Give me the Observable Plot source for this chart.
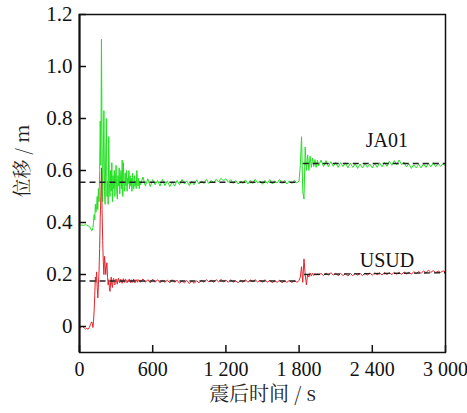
<!DOCTYPE html>
<html>
<head>
<meta charset="utf-8">
<script src="https://cdn.jsdelivr.net/npm/d3@7"></script>
<script src="https://cdn.jsdelivr.net/npm/@observablehq/plot@0.6"></script>
<style>
  html, body { margin: 0; padding: 0; background: #fff; }
</style>
</head>
<body>
<div id="chart"></div>
<script>
// sample times (s)
const times = [
  0,10,20,30,40,50,60,70,80,90,100,
  105,110,115,120,125,130,135,140,145,150,
  155,160,165,170,175,180,185,190,195,200,
  205,210,215,220,225,230,235,240,245,250,
  255,260,265,270,275,280,285,290,295,300,
  305,310,315,320,325,330,335,340,345,350,
  355,360,365,370,375,380,385,390,395,400,
  405,410,415,420,425,430,435,440,445,450,
  455,460,465,470,475,480,485,490,495,500,
  520,540,560,580,600,620,640,660,680,700,
  720,740,760,780,800,820,840,860,880,900,
  920,940,960,980,1000,1020,1040,1060,1080,1100,
  1120,1140,1160,1180,1200,1220,1240,1260,1280,1300,
  1320,1340,1360,1380,1400,1420,1440,1460,1480,1500,
  1520,1540,1560,1580,1600,1620,1640,1660,1680,1700,
  1720,1740,1760,1780,
  1790,1800,1810,1820,1830,1840,1850,1860,1870,1880,1890,1900,1910,1920,1930,1940,1950,1960,
  1980,2000,2020,2040,2060,2080,2100,2120,2140,2160,
  2180,2200,2220,2240,2260,2280,2300,2320,2340,2360,
  2380,2400,2420,2440,2460,2480,2500,2520,2540,2560,
  2580,2600,2620,2640,2660,2680,2700,2720,2740,2760,
  2780,2800,2820,2840,2860,2880,2900,2920,2940,2960,
  2980,3000
];

// JA01 displacement (m)
const ja01 = [
  0.392,0.389,0.391,0.388,0.39,0.393,0.389,0.387,0.385,0.378,0.368,
  0.37,0.38,0.40,0.43,0.41,0.47,0.44,0.46,0.50,0.45,
  0.53,0.48,0.60,0.79,0.62,1.105,0.7,0.48,0.65,0.83,
  0.52,0.47,0.66,0.80,0.5,0.56,0.47,0.73,0.55,0.50,
  0.6,0.52,0.63,0.48,0.58,0.53,0.6,0.5,0.57,0.62,
  0.52,0.49,0.58,0.54,0.61,0.51,0.56,0.6,0.53,0.64,
  0.5,0.63,0.55,0.52,0.59,0.54,0.6,0.52,0.57,0.55,
  0.6,0.53,0.58,0.54,0.57,0.52,0.59,0.55,0.53,0.58,
  0.54,0.56,0.53,0.6,0.55,0.54,0.57,0.53,0.56,0.545,
  0.575,0.54,0.568,0.538,0.565,0.545,0.562,0.54,0.566,0.542,
  0.56,0.538,0.556,0.54,0.562,0.545,0.566,0.548,0.56,0.542,
  0.558,0.545,0.564,0.548,0.56,0.55,0.566,0.55,0.562,0.552,
  0.566,0.556,0.57,0.56,0.568,0.555,0.565,0.55,0.562,0.548,
  0.56,0.55,0.564,0.548,0.562,0.55,0.566,0.552,0.56,0.547,
  0.562,0.55,0.565,0.548,0.56,0.552,0.566,0.55,0.562,0.548,
  0.56,0.55,0.562,0.552,
  0.556,0.56,0.62,0.73,0.52,0.49,0.69,0.6,0.66,0.6,0.655,0.612,0.648,0.615,0.642,0.612,0.64,0.618,
  0.64,0.615,0.638,0.615,0.634,0.616,0.632,0.612,0.63,0.615,
  0.63,0.61,0.628,0.612,0.626,0.608,0.625,0.61,0.627,0.612,
  0.625,0.61,0.628,0.612,0.63,0.614,0.632,0.616,0.636,0.62,
  0.638,0.622,0.64,0.622,0.632,0.614,0.626,0.608,0.622,0.61,
  0.624,0.61,0.626,0.612,0.628,0.614,0.63,0.614,0.628,0.616,
  0.626,0.618
];

// USUD displacement (m)
const usud = [
  0.0,-0.004,0.002,-0.003,-0.006,-0.01,-0.007,-0.011,-0.004,0.008,0.018,
  0.012,-0.004,0.02,0.06,0.12,0.19,0.17,0.21,0.15,0.11,
  0.16,0.21,0.3,0.42,0.5,0.61,0.45,0.33,0.25,0.2,
  0.27,0.24,0.2,0.23,0.245,0.19,0.16,0.18,0.15,0.135,
  0.17,0.19,0.16,0.15,0.18,0.185,0.165,0.16,0.178,0.183,
  0.17,0.163,0.18,0.186,0.172,0.168,0.18,0.182,0.17,0.166,
  0.178,0.184,0.172,0.17,0.182,0.181,0.174,0.168,0.176,0.18,
  0.172,0.182,0.174,0.168,0.178,0.18,0.17,0.176,0.183,0.172,
  0.168,0.178,0.18,0.174,0.17,0.181,0.176,0.172,0.179,0.17,
  0.183,0.17,0.18,0.168,0.182,0.17,0.18,0.168,0.178,0.17,
  0.178,0.168,0.18,0.17,0.178,0.166,0.176,0.168,0.177,0.165,
  0.175,0.166,0.176,0.168,0.178,0.17,0.18,0.172,0.178,0.17,
  0.18,0.172,0.181,0.172,0.178,0.17,0.18,0.17,0.176,0.168,
  0.178,0.17,0.18,0.17,0.179,0.172,0.18,0.171,0.178,0.17,
  0.18,0.17,0.178,0.168,0.176,0.17,0.178,0.168,0.176,0.17,
  0.177,0.169,0.176,0.171,
  0.172,0.178,0.19,0.23,0.17,0.26,0.2,0.16,0.2,0.19,0.206,0.194,0.205,0.196,0.204,0.197,0.203,0.198,
  0.204,0.196,0.206,0.197,0.207,0.198,0.205,0.195,0.204,0.196,
  0.203,0.194,0.204,0.195,0.205,0.197,0.204,0.196,0.206,0.198,
  0.206,0.197,0.207,0.199,0.206,0.198,0.208,0.2,0.207,0.199,
  0.209,0.201,0.208,0.2,0.21,0.202,0.209,0.201,0.211,0.203,
  0.212,0.204,0.214,0.206,0.217,0.208,0.215,0.207,0.213,0.208,
  0.214,0.21
];

// co-seismic offset fits (dashed)
const fitStart = [0, 1830, 0, 1840];
const fitEnd = [1800, 3000, 1800, 3000];
const fitStartValue = [0.555, 0.627, 0.175, 0.2];
const fitEndValue = [0.555, 0.627, 0.175, 0.207];

const stations = ["JA01", "USUD"];
const stationColors = ["#22e022", "#e3262c"];
const labelTime = 2520;
const labelFitIndex = [1, 3];

const xTicks = [0, 600, 1200, 1800, 2400, 3000];
const xTickLabels = ["0", "600", "1 200", "1 800", "2 400", "3 000"];
const yTicks = [0, 0.2, 0.4, 0.6, 0.8, 1.0, 1.2];
const yTickLabels = ["0", "0.2", "0.4", "0.6", "0.8", "1.0", "1.2"];
const xLabel = "震后时间 / s";
const yLabel = "位移 / m";

if (ja01.length !== times.length || usud.length !== times.length) {
  console.error("length mismatch", times.length, ja01.length, usud.length);
}

const rowsJA = times.map((t, i) => ({t, v: ja01[i]}));
const rowsUS = times.map((t, i) => ({t, v: usud[i]}));
const fits = fitStart.map((s, i) => ({x1: s, x2: fitEnd[i], y1: fitStartValue[i], y2: fitEndValue[i]}));
const labelJA = [{t: labelTime, v: fitStartValue[labelFitIndex[0]], text: stations[0]}];
const labelUS = [{t: labelTime, v: fitStartValue[labelFitIndex[1]], text: stations[1]}];

const serif = "'Liberation Serif', 'Times New Roman', 'DejaVu Serif', serif";
const cjk = "'Noto Serif CJK SC', 'Noto Sans CJK SC', sans-serif";

const chart = Plot.plot({
  width: 467,
  height: 413,
  marginLeft: 79,
  marginRight: 22,
  marginTop: 14,
  marginBottom: 61,
  x: {domain: [0, 3000]},
  y: {domain: [-0.1, 1.2]},
  style: {fontFamily: serif, fontSize: "20px", background: "#fff", color: "#111"},
  marks: [
    Plot.line(rowsJA, {x: "t", y: "v", stroke: stationColors[0], strokeWidth: 1}),
    Plot.line(rowsUS, {x: "t", y: "v", stroke: stationColors[1], strokeWidth: 1}),
    Plot.link(fits, {x1: "x1", x2: "x2", y1: "y1", y2: "y2", stroke: "#222", strokeWidth: 1.4, strokeDasharray: "6,4"}),
    Plot.frame({stroke: "#111", strokeWidth: 1.5}),
    Plot.ruleX([0], {stroke: "#111", strokeWidth: 2}),
    Plot.axisX({ticks: xTicks, tickSize: -7, tickFormat: () => "", label: null, strokeWidth: 1.5}),
    Plot.axisX({ticks: xTicks, tickSize: 0, tickPadding: 9, tickFormat: (d) => xTickLabels[xTicks.indexOf(d)], label: null, fontSize: 20}),
    Plot.axisY({ticks: yTicks, tickSize: -7, tickFormat: () => "", label: null, strokeWidth: 1.5}),
    Plot.axisY({ticks: yTicks, tickSize: 0, tickPadding: 7, tickFormat: (d) => yTickLabels[yTicks.indexOf(d)], label: null, fontSize: 21}),
    Plot.text(labelJA, {x: "t", y: "v", text: "text", dy: -23, fontSize: 20, fill: "#111"}),
    Plot.text(labelUS, {x: "t", y: "v", text: "text", dy: -14, fontSize: 20, fill: "#111"}),
    Plot.text([yLabel], {frameAnchor: "left", dx: -57, dy: 14, rotate: -90, fontFamily: cjk, fontSize: 19, fill: "#222"}),
    Plot.text([xLabel], {frameAnchor: "bottom", dy: 48, fontFamily: cjk, fontSize: 20, fill: "#222"})
  ]
});
document.getElementById("chart").appendChild(chart);
</script>
</body>
</html>
